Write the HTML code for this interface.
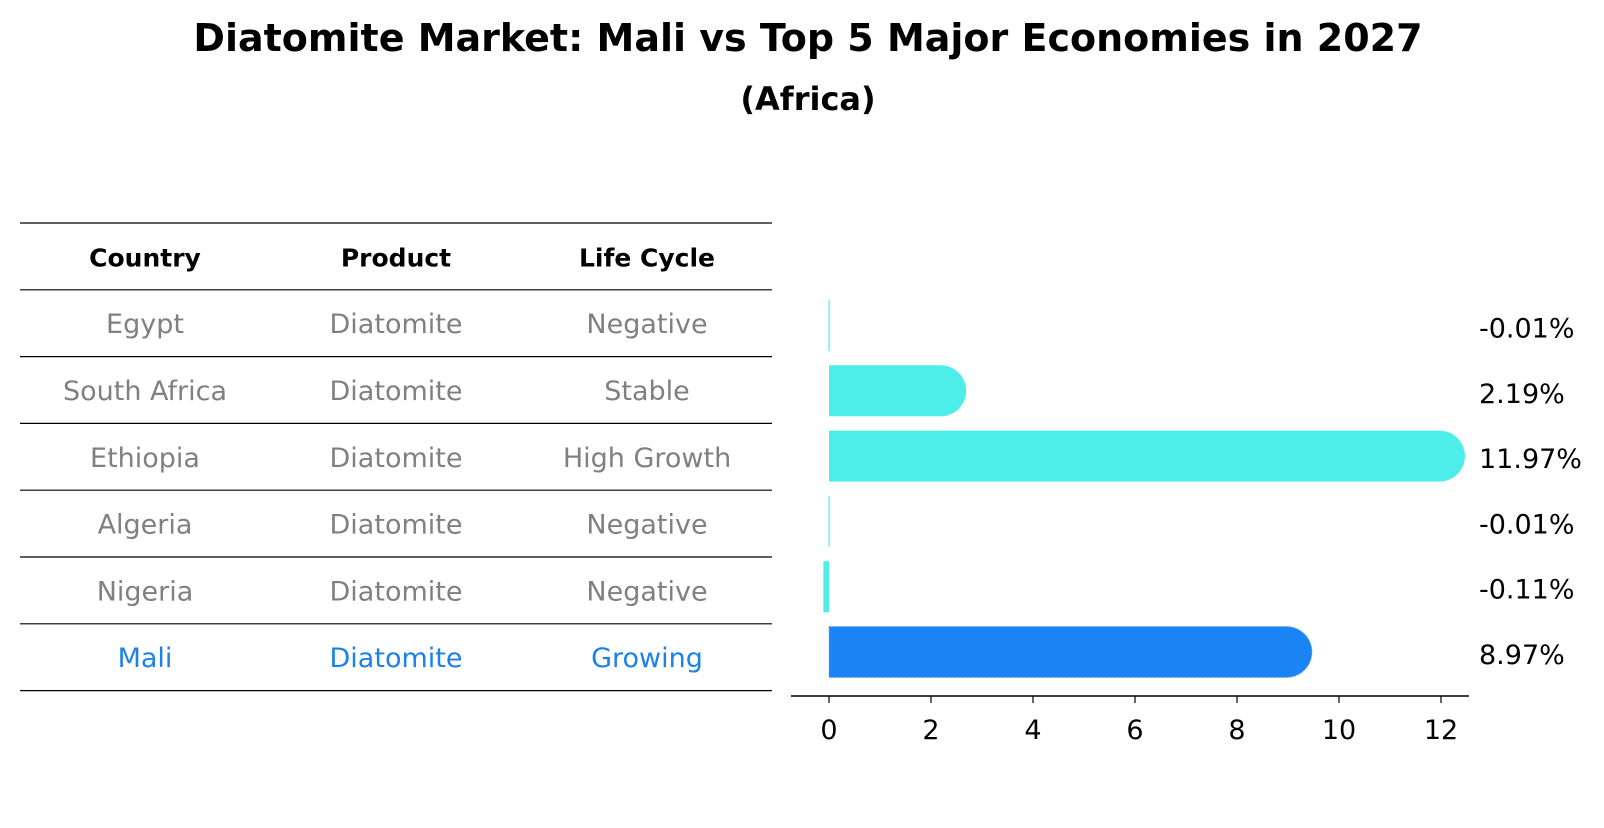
<!DOCTYPE html>
<html><head><meta charset="utf-8"><style>
body{margin:0;background:#fff;font-family:"Liberation Sans","DejaVu Sans",sans-serif;}
svg text{font-family:"DejaVu Sans","Liberation Sans",sans-serif;}
</style></head><body>
<svg id="chart" width="1604" height="823" viewBox="0 0 1604 823" xmlns="http://www.w3.org/2000/svg">
<text x="808" y="51" text-anchor="middle" font-size="38" font-weight="bold">Diatomite Market: Mali vs Top 5 Major Economies in 2027</text>
<text x="808" y="110" text-anchor="middle" font-size="32" font-weight="bold">(Africa)</text>
<g id="table"></g>
<g id="bars"></g>
</svg>
<script>
const countries=["Egypt","South Africa","Ethiopia","Algeria","Nigeria","Mali"];
const products=["Diatomite","Diatomite","Diatomite","Diatomite","Diatomite","Diatomite"];
const lifeCycles=["Negative","Stable","High Growth","Negative","Negative","Growing"];
const growthValues=[-0.01,2.19,11.97,-0.01,-0.11,8.97];
const valueLabels=["-0.01%","2.19%","11.97%","-0.01%","-0.11%","8.97%"];
const xTicks=[0,2,4,6,8,10,12];
const headers=["Country","Product","Life Cycle"];

const NS="http://www.w3.org/2000/svg";
function mk(tag,attrs,parent){const e=document.createElementNS(NS,tag);for(const k in attrs)e.setAttribute(k,attrs[k]);parent.appendChild(e);return e;}
const tbl=document.getElementById('table');
const bars=document.getElementById('bars');
const lineY=i=>223+i*66.8;
const colX=[145,396,647];
const xScale=v=>829+v*(1441-829)/12;
const rowY=i=>325.5+i*65.3;

for(let i=0;i<8;i++){
  const y=lineY(i);
  const l=mk('line',{x1:20,x2:772,y1:y,y2:y,stroke:'#000','stroke-width':1.2},tbl);
  
  
}
headers.forEach((h,j)=>{
  const t=mk('text',{x:colX[j],y:(lineY(0)+lineY(1))/2+10,'text-anchor':'middle','font-size':25,'font-weight':'bold'},tbl);
  t.textContent=h;
  
  
});
countries.forEach((c,i)=>{
  const y=(lineY(i+1)+lineY(i+2))/2+10;
  const col=c==="Mali"?'#1a82e8':'#808080';
  [c,products[i],lifeCycles[i]].forEach((v,j)=>{
    const t=mk('text',{x:colX[j],y:y,'text-anchor':'middle','font-size':27,fill:col},tbl);
    t.textContent=v;
    
    
  });
});

const h=51,r=25.5;
growthValues.forEach((v,i)=>{
  const cy=rowY(i);
  const isMali=countries[i]==="Mali";
  const fill=isMali?'#1a84f4':'#4deeea';
  const x0=xScale(0),x1=xScale(v);
  let d;
  if(v>0.05){
    d=`M${x0},${cy-h/2} L${x1},${cy-h/2} A${r},${r} 0 0 1 ${x1},${cy+h/2} L${x0},${cy+h/2} Z`;
  }else{
    const a=Math.min(x0,x1), b=Math.max(x0,x1);
    const w=Math.max(b-a,1.2);
    d=`M${a},${cy-h/2} h${w} v${h} h${-w} Z`;
  }
  const p=mk('path',{d:d,fill:fill},bars);
  if(isMali){p.setAttribute('stroke','#7aa8d8');p.setAttribute('stroke-dasharray','2,2');p.setAttribute('stroke-width','1');}
  
  
  const t=mk('text',{x:1479,y:cy+12,'font-size':27},bars);
  t.textContent=valueLabels[i];
  
  
});
const ax=mk('line',{x1:791,x2:1469,y1:696,y2:696,stroke:'#000','stroke-width':1.5},bars);


xTicks.forEach(tk=>{
  const x=xScale(tk);
  const l=mk('line',{x1:x,x2:x,y1:696,y2:703,stroke:'#000','stroke-width':1.2},bars);
  
  
  const t=mk('text',{x:x,y:739,'text-anchor':'middle','font-size':27},bars);
  t.textContent=tk;
  
  
});
</script>
</body></html>
